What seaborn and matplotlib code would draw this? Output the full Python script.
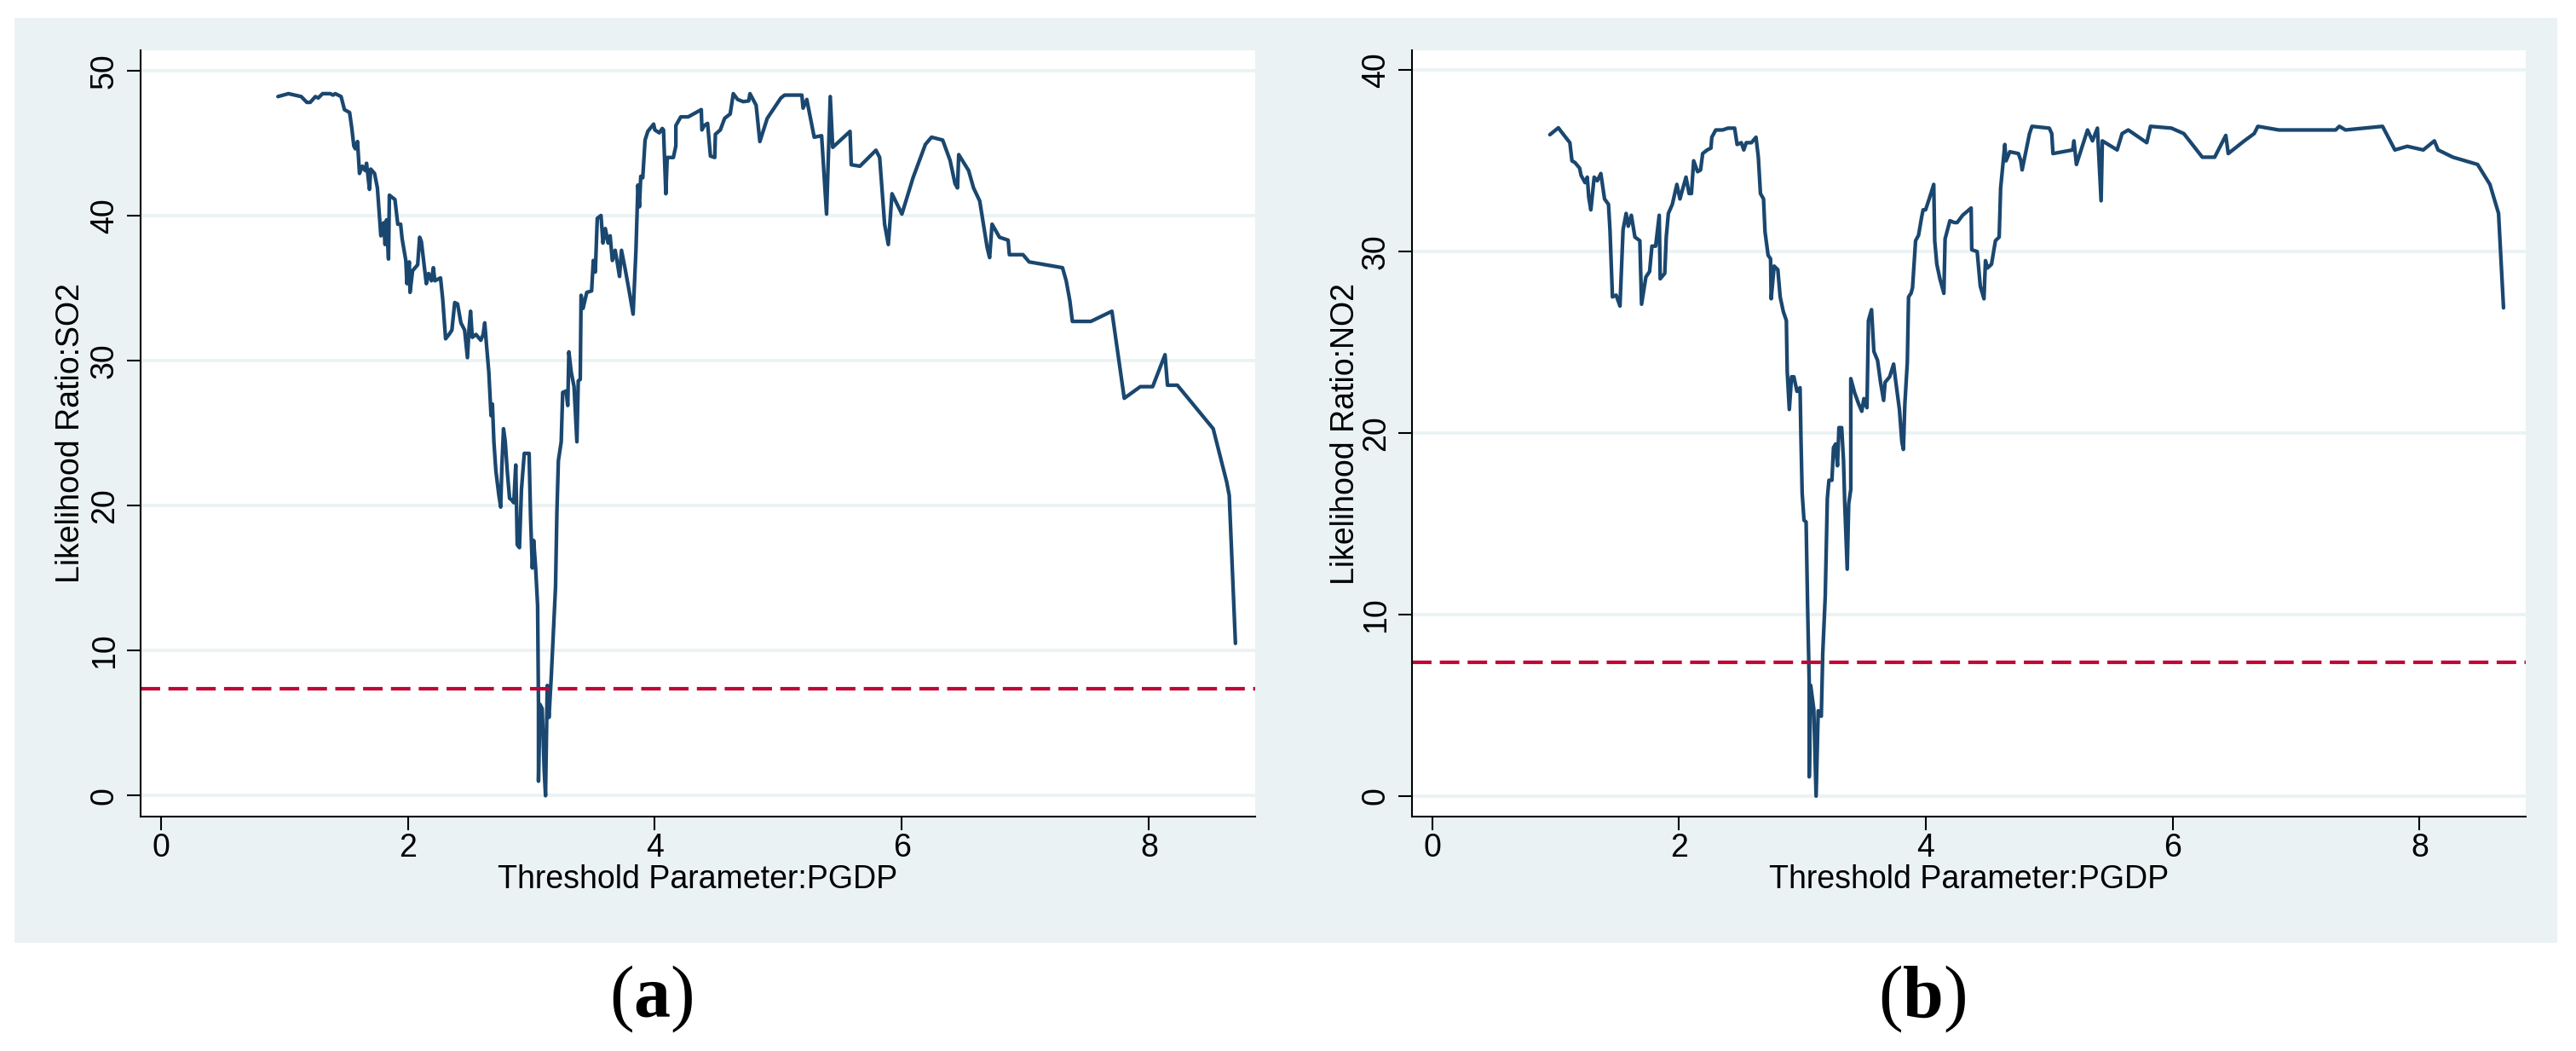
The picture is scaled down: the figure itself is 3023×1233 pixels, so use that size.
import matplotlib
matplotlib.use("Agg")
import matplotlib.pyplot as plt
import seaborn as sns
from matplotlib.patches import Rectangle

# ---------------- data ----------------
so2_x = [0.949,1.034,1.137,1.183,1.21,1.252,1.275,1.31,1.372,1.395,1.413,1.46,
         1.487,1.529,1.547,1.563,1.575,1.593,1.609,1.632,1.655,1.666,1.69,1.70,
         1.731,1.754,1.782,1.804,1.816,1.828,1.844,1.851,1.896,1.919,1.942,1.954,
         1.984,1.993,2.012,2.018,2.039,2.08,2.096,2.11,2.15,2.168,2.191,2.207,
         2.219,2.265,2.283,2.306,2.334,2.357,2.38,2.403,2.43,2.46,2.483,2.495,
         2.508,2.522,2.552,2.591,2.61,2.623,2.637,2.656,2.674,2.685,2.697,2.713,
         2.736,2.752,2.762,2.775,2.789,2.805,2.824,2.84,2.858,2.874,2.886,2.904,
         2.92,2.943,2.966,2.982,2.994,3.008,3.019,3.035,3.051,3.058,3.058,3.07,
         3.088,3.104,3.115,3.129,3.143,3.162,3.18,3.196,3.207,3.219,3.242,3.254,
         3.281,3.295,3.304,3.323,3.346,3.369,3.38,3.396,3.403,3.419,3.449,3.488,
         3.502,3.518,3.534,3.564,3.58,3.599,3.622,3.638,3.656,3.679,3.695,3.714,
         3.73,3.76,3.794,3.824,3.847,3.863,3.875,3.886,3.902,3.921,3.943,3.99,
         4.00,4.036,4.06,4.07,4.089,4.10,4.15,4.17,4.17,4.21,4.27,4.376,
         4.381,4.40,4.427,4.45,4.485,4.49,4.53,4.565,4.61,4.635,4.67,4.715,
         4.76,4.77,4.82,4.85,4.91,5.02,5.05,5.19,5.20,5.23,5.29,5.35,
         5.39,5.42,5.44,5.58,5.59,5.66,5.79,5.82,5.86,5.89,5.92,6.00,
         6.09,6.19,6.24,6.33,6.39,6.43,6.45,6.46,6.54,6.58,6.63,6.69,
         6.71,6.73,6.79,6.86,6.87,6.98,7.03,7.30,7.33,7.36,7.38,7.53,
         7.70,7.80,7.93,8.03,8.13,8.15,8.23,8.52,8.63,8.65,8.70]
so2_lr = [48.2,48.4,48.2,47.8,47.8,48.2,48.1,48.4,48.4,48.3,48.4,48.2,
          47.3,47.1,46.0,44.8,44.6,45.1,42.9,43.4,43.1,43.6,41.8,43.2,
          42.9,41.9,38.6,39.5,38.0,39.7,37.0,41.4,41.1,39.4,39.4,38.4,
          36.9,35.3,36.8,34.7,36.2,36.6,38.5,38.2,35.3,36.0,35.5,36.4,
          35.5,35.7,34.2,31.5,31.8,32.1,34.0,33.9,32.6,32.1,30.2,32.1,
          33.4,31.6,31.8,31.4,31.8,32.6,31.1,29.2,26.2,27.0,24.4,22.4,
          20.8,19.9,22.8,25.3,24.4,22.4,20.5,20.4,20.2,22.8,17.3,17.1,
          21.1,23.6,23.6,23.6,19.2,15.7,17.6,15.7,13.1,6.3,1.0,6.3,
          6.0,1.8,0.0,7.6,5.4,8.3,11.5,14.4,19.5,23.1,24.4,27.8,
          27.9,26.9,30.6,29.2,28.2,24.4,28.6,28.7,34.5,33.6,34.7,34.8,
          36.9,36.1,39.8,40.0,38.1,39.1,38.1,38.6,36.9,37.6,36.8,35.8,
          37.6,36.3,34.7,33.2,37.6,42.1,40.6,42.7,42.6,45.2,45.8,46.3,
          45.9,45.7,46.0,45.9,41.5,44.0,44.0,44.8,46.2,46.8,46.8,47.3,
          45.9,46.2,46.35,44.1,44.0,45.6,45.9,46.7,47.0,48.4,48.0,47.85,
          47.9,48.4,47.6,45.1,46.7,48.1,48.3,48.3,47.4,48.0,45.4,45.5,
          40.1,48.2,44.7,45.8,43.5,43.4,44.5,44.0,39.4,38.0,41.5,40.1,
          42.6,44.9,45.4,45.2,43.8,42.2,41.9,44.2,43.1,41.9,41.0,37.8,
          37.1,39.4,38.5,38.3,37.3,37.3,36.8,36.4,35.5,34.1,32.7,32.7,
          33.4,27.4,28.2,28.2,30.4,28.3,28.3,25.3,21.6,20.7,10.5]

no2_x = [0.954,1.023,1.047,1.116,1.133,1.158,1.195,1.207,1.239,1.257,1.269,1.286,
         1.313,1.338,1.367,1.397,1.429,1.441,1.461,1.491,1.522,1.547,1.572,1.589,
         1.614,1.643,1.683,1.697,1.732,1.762,1.781,1.811,1.823,1.84,1.848,1.885,
         1.897,1.914,1.946,1.983,2.008,2.028,2.057,2.082,2.101,2.119,2.151,2.175,
         2.192,2.229,2.259,2.266,2.298,2.353,2.397,2.451,2.471,2.505,2.525,2.545,
         2.587,2.624,2.643,2.66,2.685,2.697,2.722,2.742,2.747,2.771,2.801,2.82,
         2.845,2.87,2.877,2.894,2.912,2.931,2.956,2.981,2.988,2.998,3.013,3.03,
         3.042,3.055,3.055,3.067,3.092,3.111,3.128,3.153,3.165,3.185,3.202,3.215,
         3.239,3.252,3.269,3.284,3.296,3.318,3.333,3.343,3.363,3.375,3.392,3.392,
         3.424,3.456,3.481,3.498,3.523,3.535,3.56,3.579,3.609,3.633,3.658,3.67,
         3.707,3.739,3.757,3.786,3.806,3.818,3.83,3.85,3.86,3.88,3.892,3.917,
         3.941,3.966,3.978,3.998,4.027,4.064,4.072,4.089,4.114,4.146,4.156,4.195,
         4.23,4.254,4.298,4.367,4.372,4.416,4.441,4.471,4.483,4.5,4.532,4.564,
         4.594,4.606,4.64,4.65,4.68,4.75,4.77,4.78,4.84,4.86,5.00,5.02,
         5.03,5.19,5.20,5.22,5.31,5.35,5.39,5.42,5.43,5.55,5.59,5.64,
         5.79,5.82,5.99,6.09,6.24,6.34,6.43,6.45,6.58,6.66,6.69,6.86,
         7.32,7.35,7.40,7.70,7.80,7.90,8.03,8.12,8.15,8.27,8.47,8.57,
         8.64,8.68]
no2_lr = [36.44,36.82,36.6,36.0,35.0,34.9,34.6,34.2,33.8,34.1,33.0,32.3,
          34.1,33.9,34.3,32.9,32.6,31.2,27.5,27.6,27.0,31.2,32.1,31.4,
          32.0,30.8,30.6,27.1,28.6,28.9,30.3,30.3,31.0,32.0,28.5,28.8,
          30.8,32.1,32.6,33.7,32.9,33.4,34.1,33.2,33.2,35.0,34.4,34.5,
          35.4,35.6,35.7,36.3,36.7,36.7,36.8,36.8,35.9,36.0,35.6,36.0,
          36.0,36.3,35.2,33.2,32.9,31.1,29.8,29.6,27.4,29.2,29.0,27.5,
          26.7,26.2,23.4,21.3,23.1,23.1,22.3,22.5,19.8,16.7,15.2,15.1,
          10.5,6.3,1.06,6.1,4.8,0.0,4.7,4.4,7.9,11.0,16.4,17.4,
          17.4,19.2,19.4,18.2,20.3,20.3,18.5,16.1,12.5,16.1,16.9,23.0,
          22.2,21.6,21.2,21.9,21.4,26.2,26.8,24.5,24.0,22.8,21.8,22.8,
          23.1,23.8,22.8,21.3,19.5,19.1,21.6,23.9,27.5,27.7,28.0,30.6,
          30.9,31.9,32.3,32.3,32.9,33.7,30.6,29.3,28.5,27.7,30.7,31.7,
          31.6,31.6,32.0,32.4,30.1,30.0,28.1,27.4,29.5,29.1,29.3,30.6,
          30.8,33.5,35.9,35.0,35.5,35.4,35.0,34.5,36.5,36.9,36.8,36.5,
          35.4,35.6,36.1,34.8,36.7,36.1,36.8,32.8,36.1,35.6,36.5,36.7,
          36.0,36.9,36.8,36.5,35.2,35.2,36.4,35.4,36.1,36.5,36.9,36.7,
          36.7,36.9,36.7,36.9,35.6,35.8,35.6,36.1,35.6,35.2,34.8,33.7,
          32.1,26.9]

critical_value = 7.35
x_ticks = [0, 2, 4, 6, 8]
so2_ticks = [0, 10, 20, 30, 40, 50]
no2_ticks = [0, 10, 20, 30, 40]
x_label = "Threshold Parameter:PGDP"
y_labels = ["Likelihood Ratio:SO2", "Likelihood Ratio:NO2"]
panel_tags = [r"$(\mathbf{a})$", r"$(\mathbf{b})$"]

# ---------------- style ----------------
sns.set_theme(style="white")
plt.rcParams['font.family'] = ['Liberation Sans', 'DejaVu Sans']
plt.rcParams['mathtext.fontset'] = 'custom'
plt.rcParams['mathtext.rm'] = 'Liberation Serif'
plt.rcParams['mathtext.bf'] = 'Liberation Serif:bold'
plt.rcParams['mathtext.it'] = 'Liberation Serif:italic'
plt.rcParams['lines.scale_dashes'] = False

NAVY = '#1a476f'
RED = '#c10534'
BG = '#eaf2f3'

W, H = 3023, 1233
fig = plt.figure(figsize=(W / 100, H / 100), dpi=100)
fig.patch.set_facecolor('white')
fig.patches.append(Rectangle((17 / W, 1 - 1106 / H), (3001 - 17) / W, (1106 - 21) / H,
                             transform=fig.transFigure, facecolor=BG,
                             edgecolor='none', zorder=-5))

panels = [
    dict(x=so2_x, y=so2_lr, ticks=so2_ticks, ylim=(-1.44, 51.39), left=165, width=1308,
         ylab=y_labels[0], ylab_x=(101 - 165) / 1308, tag=panel_tags[0], tag_x=764),
    dict(x=no2_x, y=no2_lr, ticks=no2_ticks, ylim=(-1.13, 41.09), left=1657, width=1307,
         ylab=y_labels[1], ylab_x=(1597 - 1657) / 1307, tag=panel_tags[1], tag_x=2256),
]

top_px, bot_px = 59, 958
for p in panels:
    ax = fig.add_axes([p['left'] / W, 1 - bot_px / H, p['width'] / W, (bot_px - top_px) / H])
    ax.set_facecolor('white')
    ax.set_axisbelow(True)
    ax.yaxis.grid(True, color=BG, linewidth=2.7)
    ax.xaxis.grid(False)

    sns.lineplot(x=p['x'], y=p['y'], ax=ax, color=NAVY, linewidth=3.1,
                 estimator=None, sort=False)
    ax.axhline(critical_value, color=RED, linewidth=3.0, linestyle=(0, (16.5, 7)))

    ax.set_xlim(-0.163, 8.86)
    ax.set_ylim(*p['ylim'])
    ax.set_xticks(x_ticks)
    ax.set_yticks(p['ticks'])

    for s in ['top', 'right']:
        ax.spines[s].set_visible(False)
    for s in ['left', 'bottom']:
        ax.spines[s].set_color('black')
        ax.spines[s].set_linewidth(1.5)

    ax.tick_params(axis='both', which='major', bottom=True, left=True, direction='out',
                   length=11.5, width=1.5, color='black', labelsize=27, labelcolor='black')
    ax.tick_params(axis='x', pad=2)
    ax.tick_params(axis='y', pad=6, labelrotation=90)
    plt.setp(ax.get_yticklabels(), va='center')

    ax.set_xlabel(x_label, fontsize=27, color='black', labelpad=1)
    ax.set_ylabel(p['ylab'], fontsize=27, color='black')
    ax.yaxis.set_label_coords(p['ylab_x'], 0.5)

    fig.text(p['tag_x'] / W, 1 - 1172 / H, p['tag'], ha='center', va='center',
             fontsize=62, color='black')

fig.savefig('out.png', dpi=100, facecolor='white')
